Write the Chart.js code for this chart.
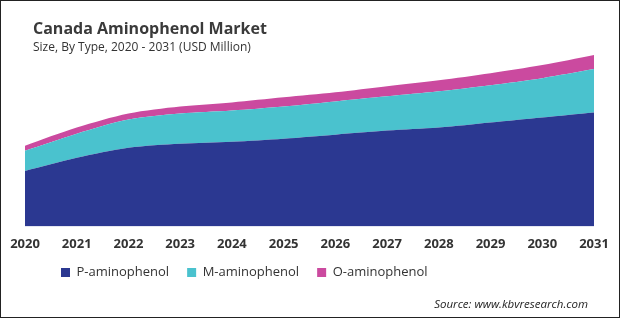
<!DOCTYPE html>
<html>
<head>
<meta charset="utf-8">
<script src="https://cdn.jsdelivr.net/npm/chart.js@4.4.1/dist/chart.umd.min.js"></script>
<style>
    body { margin: 0; background: #fff; font-family: "Open Sans", sans-serif; }
    #wrap { position: relative; width: 620px; height: 323px; }
    #frame { position: absolute; left: 0; top: 0; width: 620px; height: 318px; box-sizing: border-box; border: 1px solid #222; pointer-events: none; }
    #title { position: absolute; left: 33px; top: 18px; font-size: 16px; line-height: 20px; font-weight: bold; color: #3a3a3a; }
    #subtitle { position: absolute; left: 33px; top: 39px; font-size: 12px; line-height: 16px; color: #333; }
    #source { position: absolute; right: 32px; top: 297px; font-size: 11.5px; line-height: 14px; font-style: italic; color: #222; }
</style>
</head>
<body>
<div id="wrap">
    <canvas id="areaChart"></canvas>
    <div id="title">Canada Aminophenol Market</div>
    <div id="subtitle">Size, By Type, 2020 - 2031 (USD Million)</div>
    <div id="source">Source: www.kbvresearch.com</div>
    <div id="frame"></div>
</div>
<script>
const years = ['2020', '2021', '2022', '2023', '2024', '2025', '2026', '2027', '2028', '2029', '2030', '2031'];
const pAminophenol = [55, 68, 78, 82, 84, 87, 91, 95, 98, 103, 108, 113];
const mAminophenol = [20, 24, 28, 30, 31, 32, 33, 34, 36, 37, 39, 43];
const oAminophenol = [5, 6, 6, 7, 8, 9, 9, 10, 11, 12, 13, 14];

// move the legend so it starts under the left part of the plot, like the original
const legendShift = {
    id: 'legendShift',
    afterLayout(chart) {
        const pad = chart.options.plugins.legend.labels.padding;
        chart.legend.left = 61 - pad;
        chart.legend.top = 266 - pad;
    }
};

function drawAminophenolChart() {
    const data = {
        labels: years,
        datasets: [{
            label: 'P-aminophenol',
            data: pAminophenol,
            backgroundColor: '#2b3891',
            fill: 'origin'
        }, {
            label: 'M-aminophenol',
            data: mAminophenol,
            backgroundColor: '#4ac2ce',
            fill: '-1'
        }, {
            label: 'O-aminophenol',
            data: oAminophenol,
            backgroundColor: '#cb4a9f',
            fill: '-1'
        }]
    };

    const configChart = {
        type: 'line',
        data: data,
        options: {
            responsive: true,
            maintainAspectRatio: false,
            animation: false,
            elements: {
                line: { borderWidth: 0, tension: 0.3 },
                point: { radius: 0 }
            },
            layout: {
                padding: { left: 25, right: 26, top: 55, bottom: 20 }
            },
            scales: {
                x: {
                    grid: { display: false, drawTicks: false },
                    border: { display: false },
                    ticks: {
                        padding: 10,
                        color: '#333',
                        font: { family: 'Open Sans', size: 13, weight: 'bold' },
                        maxRotation: 0,
                        autoSkip: false
                    }
                },
                y: {
                    display: false,
                    stacked: true,
                    min: 0,
                    max: 170
                }
            },
            plugins: {
                legend: {
                    position: 'bottom',
                    align: 'start',
                    labels: {
                        boxWidth: 9,
                        boxHeight: 9,
                        padding: 18,
                        color: '#333',
                        font: { family: 'Open Sans', size: 13 }
                    }
                },
                tooltip: { enabled: false }
            }
        },
        plugins: [legendShift]
    };

    new Chart(document.getElementById('areaChart'), configChart);
}

drawAminophenolChart();
</script>
</body>
</html>
